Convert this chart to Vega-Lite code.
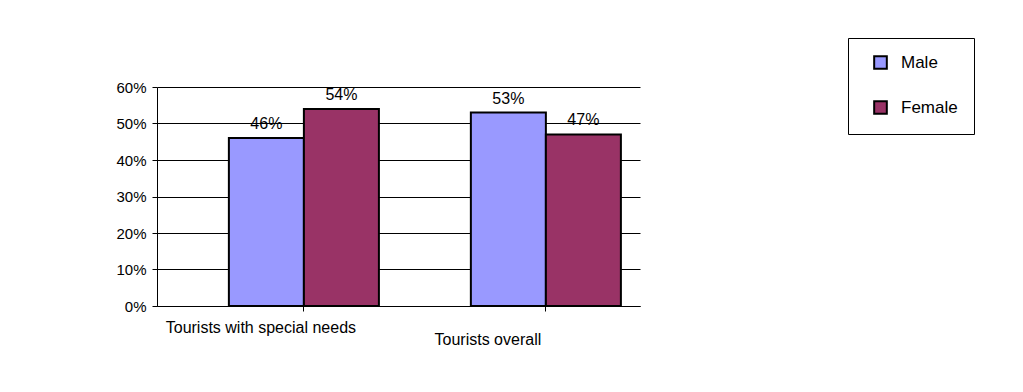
{
  "$schema": "https://vega.github.io/schema/vega-lite/v6.json",
  "autosize": {"type": "none"},
  "width": 483,
  "height": 219,
  "padding": {"left": 157, "top": 87, "right": 383, "bottom": 86},
  "background": "white",
  "data": {"values": [
    {"group": "Tourists with special needs", "gender": "Male", "value": 0.46},
    {"group": "Tourists with special needs", "gender": "Female", "value": 0.54},
    {"group": "Tourists overall", "gender": "Male", "value": 0.53},
    {"group": "Tourists overall", "gender": "Female", "value": 0.47}
  ]},
  "encoding": {
    "x": {"field": "group", "type": "nominal", "sort": null,
      "scale": {"paddingInner": 0.38, "paddingOuter": 0.188, "align": 0.79},
      "axis": {"title": null, "labelAngle": 0, "labelLimit": 400, "labelFont": "Liberation Sans", "labelFontSize": 16, "labelColor": "black", "domainColor": "black", "tickColor": "black",
        "labelOffset": {"condition": {"test": "datum.value == 'Tourists overall'", "value": -58}, "value": -43},
        "labelPadding": {"condition": {"test": "datum.value == 'Tourists overall'", "value": 20}, "value": 8}}},
    "xOffset": {"field": "gender", "type": "nominal", "sort": ["Male", "Female"]},
    "y": {"field": "value", "type": "quantitative",
      "scale": {"domain": [0, 0.6]},
      "axis": {"title": null, "format": ".0%", "values": [0, 0.1, 0.2, 0.3, 0.4, 0.5, 0.6], "labelOverlap": false, "labelFont": "Liberation Sans", "labelFontSize": 15, "labelColor": "black", "domainColor": "black", "tickColor": "black", "gridColor": "black", "gridOpacity": 1, "labelPadding": 6}}
  },
  "layer": [
    {"mark": {"type": "bar", "stroke": "black", "strokeWidth": 2},
     "encoding": {
       "color": {"field": "gender", "type": "nominal", "sort": ["Male", "Female"],
         "scale": {"domain": ["Male", "Female"], "range": ["#9999FF", "#993366"]},
         "legend": {"title": null, "orient": "none", "legendX": 691, "legendY": -49, "direction": "vertical",
           "labelFont": "Liberation Sans", "labelFontSize": 17, "labelColor": "black",
           "symbolType": "square", "symbolSize": 160, "symbolStrokeColor": "black", "symbolStrokeWidth": 2, "symbolOffset": 8,
           "strokeColor": "black", "padding": 16, "rowPadding": 24, "labelOffset": 12, "fillColor": "white"}}
     }},
    {"mark": {"type": "text", "dy": -14, "font": "Liberation Sans", "fontSize": 16, "color": "black"},
     "encoding": {"text": {"field": "value", "type": "quantitative", "format": ".0%"}}}
  ],
  "config": {"view": {"stroke": null}, "axis": {"grid": false}, "axisY": {"grid": true}}
}
